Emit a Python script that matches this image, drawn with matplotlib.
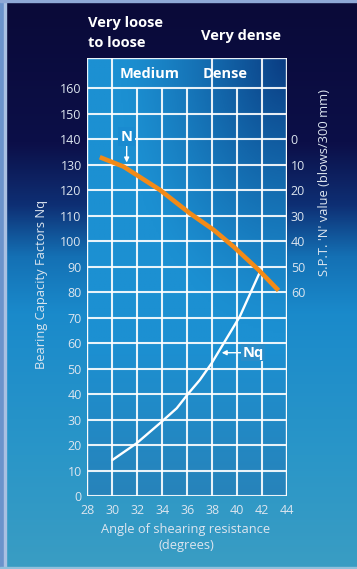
import numpy as np
import matplotlib
matplotlib.use("Agg")
import matplotlib.pyplot as plt
from matplotlib.colors import LinearSegmentedColormap, to_rgb

# ---------------- data ----------------
angle_ticks = [28, 30, 32, 34, 36, 38, 40, 42, 44]
nq_ticks = [0, 10, 20, 30, 40, 50, 60, 70, 80, 90, 100, 110, 120, 130, 140, 150, 160]
spt_ticks = [0, 10, 20, 30, 40, 50, 60]
header_dividers = [30, 38, 42]
header_labels = ["Medium", "Dense"]
header_label_x = [33.0, 39.0]

# SPT 'N' curve (orange), values on right axis
angle_N = [29.0, 30.9, 33.8, 36.2, 38.1, 39.7, 41.7, 43.3]
spt_N = [7.1, 10.8, 19.9, 29.1, 35.6, 42.2, 51.3, 59.4]

# Bearing capacity factor Nq curve (white)
angle_Nq = [30.0, 31.95, 33.8, 35.15, 36.1, 37.0, 37.95, 38.75, 39.55, 40.2, 41.95]
Nq = [14.1, 20.7, 28.5, 34.4, 40.3, 45.5, 52.1, 58.6, 65.1, 70.4, 89.4]

# ---------------- style ----------------
W, H = 357, 569
plt.rcParams['font.family'] = ['Open Sans', 'DejaVu Sans']
txt = '#dce5ef'
YTOP = 171.8
SPT_ZERO = 140.0
BOLD = 10.5

fig = plt.figure(figsize=(W / 100, H / 100), dpi=100)

# figure background gradient
bg = fig.add_axes([0, 0, 1, 1], zorder=-5)
bg.axis('off')
cm = LinearSegmentedColormap.from_list('bg', [
    (0.0, '#0a0a38'), (0.25, '#0c0f48'), (0.36, '#0e2f74'),
    (0.45, '#1470b4'), (0.55, '#1a8acb'), (0.8, '#2a96c8'), (1.0, '#3a9dc3')])
g = np.linspace(0, 1, 256)[:, None]
bg.imshow(np.repeat(g, 4, axis=1), cmap=cm, aspect='auto', extent=[0, 1, 0, 1],
          origin='upper')
bg.set_xlim(0, 1); bg.set_ylim(0, 1)
# frame strips
bg.add_patch(plt.Rectangle((0, 0), 4 / W, 1, color='#6b93cb', transform=bg.transAxes))
bg.add_patch(plt.Rectangle((4 / W, 0), 2 / W, 1, color='#a9c0e2', transform=bg.transAxes))
bg.add_patch(plt.Rectangle((0, 1 - 2 / H), 1, 2 / H, color='#8fa9d6', transform=bg.transAxes))
bg.add_patch(plt.Rectangle((0, 0), 1, 2 / H, color='#8fc0dc', transform=bg.transAxes))

# main axes
ax = fig.add_axes([87.3 / W, 73 / H, 200 / W, 438 / H])
ax.set_xlim(28, 44)
ax.set_ylim(0, YTOP)

# plot-area gradient
nx, ny = 120, 200
xx, yy = np.meshgrid(np.linspace(0, 1, nx), np.linspace(0, 1, ny))
base = np.array(to_rgb('#1c90d2'))
dark = np.array(to_rgb('#0a3c82'))
low = np.array(to_rgb('#2a80b4'))
d = np.clip(1.0 - np.hypot((1 - xx) * 1.2, (1 - yy) * 1.6), 0, 1) ** 1.3
l = np.clip((0.35 - yy) / 0.35, 0, 1) * 0.8
img = base[None, None, :] * (1 - d[..., None]) + dark[None, None, :] * d[..., None]
img = img * (1 - l[..., None]) + low[None, None, :] * l[..., None]
ax.imshow(img, extent=[28, 44, 0, YTOP], origin='lower', aspect='auto', zorder=0)

# grid
gl = dict(color='white', lw=1.5, alpha=0.9, zorder=1)
ax.hlines(nq_ticks, 28, 44, **gl)
ax.vlines(angle_ticks, 0, nq_ticks[-1], **gl)
ax.vlines(header_dividers, nq_ticks[-1], YTOP, **gl)
ax.hlines([YTOP], 28, 44, color='white', lw=1.7, alpha=0.9, zorder=1)
ax.vlines([28, 44], 0, YTOP, color='white', lw=1.7, alpha=0.9, zorder=1)
for s in ax.spines.values():
    s.set_visible(False)

for lab, xv in zip(header_labels, header_label_x):
    ax.text(xv, 165.6, lab, color='white', fontsize=BOLD, fontweight='bold',
            ha='center', va='center', zorder=3)

ax.set_xticks(angle_ticks)
ax.set_yticks(nq_ticks)
ax.tick_params(axis='both', length=0, colors=txt, labelsize=9)
ax.tick_params(axis='x', pad=6)
ax.tick_params(axis='y', pad=4)

# Nq curve
ax.plot(angle_Nq, Nq, color='white', lw=1.7, zorder=4, solid_capstyle='round')

# SPT axis (right), N = 140 - Nq position
ax2 = ax.twinx()
ax2.set_ylim(SPT_ZERO, SPT_ZERO - YTOP)
ax2.set_yticks(spt_ticks)
ax2.tick_params(axis='y', length=0, colors=txt, labelsize=9, pad=2.5)
for s in ax2.spines.values():
    s.set_visible(False)
ax2.plot(angle_N, spt_N, color='#f28a17', lw=3.3, zorder=5, solid_capstyle='butt')

# annotations
ax.annotate('', xy=(31.15, 130.8), xytext=(31.15, 137.6),
            arrowprops=dict(arrowstyle='-|>', color='white', lw=1.0,
                            mutation_scale=7, shrinkA=0, shrinkB=0), zorder=6)
ax.text(31.15, 141.0, 'N', color='white', fontsize=BOLD, fontweight='bold',
        ha='center', va='center', zorder=6,
        bbox=dict(boxstyle='square,pad=0.15', fc='#1a8bd0', ec='none'))
ax.annotate('', xy=(38.75, 56.2), xytext=(40.3, 56.2),
            arrowprops=dict(arrowstyle='-|>', color='white', lw=1.0,
                            mutation_scale=7, shrinkA=0, shrinkB=0), zorder=6)
ax.text(40.4, 56.2, 'Nq', color='white', fontsize=BOLD, fontweight='bold',
        ha='left', va='center', zorder=6,
        bbox=dict(boxstyle='square,pad=0.1', fc='#2a8cc8', ec='none'))

# axis labels (figure pixel coords)
def ftext(x, y, s, **kw):
    fig.text(x / W, 1 - y / H, s, **kw)

ftext(42, 284, 'Bearing Capacity Factors Nq', rotation=90, color=txt, fontsize=9.3,
      ha='center', va='center')
ftext(325, 183, "S.P.T. 'N' value (blows/300 mm)", rotation=90, color=txt, fontsize=9.3,
      ha='center', va='center')
ftext(186, 530, 'Angle of shearing resistance', color=txt, fontsize=9.3,
      ha='center', va='center')
ftext(186, 546, '(degrees)', color=txt, fontsize=9.3, ha='center', va='center')

ftext(88, 23, 'Very loose', color='white', fontsize=BOLD, fontweight='bold',
      ha='left', va='center')
ftext(88, 43, 'to loose', color='white', fontsize=BOLD, fontweight='bold',
      ha='left', va='center')
ftext(201, 36, 'Very dense', color='white', fontsize=BOLD, fontweight='bold',
      ha='left', va='center')

fig.savefig('out.png', dpi=100)
